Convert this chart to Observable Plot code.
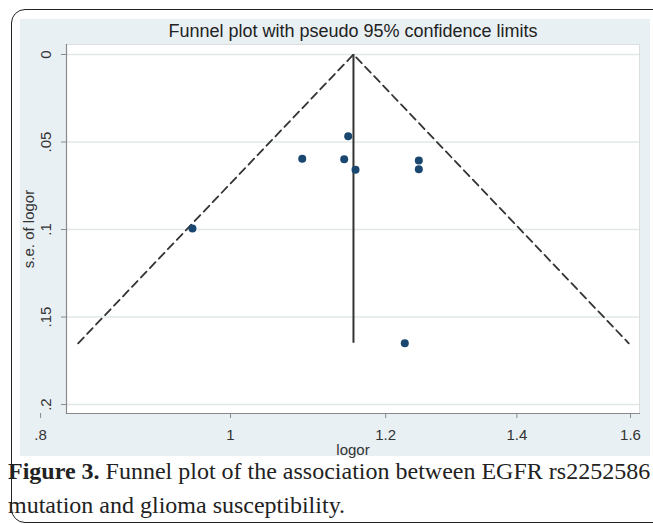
<!DOCTYPE html>
<html>
<head>
<meta charset="utf-8">
<script src="https://cdn.jsdelivr.net/npm/d3@7"></script>
<script src="https://cdn.jsdelivr.net/npm/@observablehq/plot@0.6"></script>
<style>
  html, body { margin: 0; padding: 0; background: #fff; }
  #page { position: relative; width: 653px; height: 524px; overflow: hidden; background: #fff; }
  #border { position: absolute; left: 11px; top: 9px; width: 670px; height: 514px; border: 1.5px solid #222; border-radius: 14px; box-sizing: border-box; }
  #chart { position: absolute; left: 20px; top: 19px; }
  #caption { position: absolute; left: 8px; top: 454px; font-family: "Liberation Serif", "Times New Roman", serif; font-size: 24px; line-height: 34px; color: #222; white-space: nowrap; }
</style>
</head>
<body>
<div id="page">
  <div id="border"></div>
  <div id="chart"></div>
  <div id="caption"><b>Figure 3.</b> Funnel plot of the association between EGFR rs2252586<br>mutation and glioma susceptibility.</div>
</div>
<script>
// Study estimates (log odds ratio) and standard errors
const logorValues = [0.0843, 0.1383, 0.1336, 0.1469, 0.2213, 0.2213, -0.0447, 0.2048];
const seValues    = [0.0596, 0.0467, 0.0598, 0.0659, 0.0606, 0.0655, 0.0994, 0.1650];

// Pooled estimate and pseudo 95% confidence limits (funnel vertices)
const pooledLogor = 0.1445;
const maxSE = 0.165;
const funnelX = [-0.179, 0.1445, 0.468];
const funnelY = [0.165, 0, 0.165];

// Axis ticks
const xTickOR = [0.8, 1, 1.2, 1.4, 1.6];
const xTickLabels = [".8", "1", "1.2", "1.4", "1.6"];
const yTickValues = [0, 0.05, 0.1, 0.15, 0.2];
const yTickLabels = ["0", ".05", ".1", ".15", ".2"];

const title = "Funnel plot with pseudo 95% confidence limits";
const xTitle = "logor";
const yTitle = "s.e. of logor";

const studies = logorValues.map((x, i) => ({x, y: seValues[i]}));
const funnel = funnelX.map((x, i) => ({x, y: funnelY[i]}));
const xTickPos = xTickOR.map(v => Math.log(v));

const plot = Plot.plot({
  width: 630,
  height: 437,
  marginLeft: 46,
  marginRight: 11,
  marginTop: 25,
  marginBottom: 43,
  style: {background: "#e9f0f3", fontFamily: "'Liberation Sans', Arial, sans-serif", color: "#333", overflow: "visible"},
  x: {domain: [-0.1927, 0.4806], axis: null},
  y: {domain: [-0.0057, 0.2051], reverse: true, axis: null},
  marks: [
    Plot.frame({fill: "white", stroke: "#d9dede"}),
    Plot.ruleY(yTickValues, {stroke: "#e1e7e7", strokeWidth: 1.5}),
    Plot.frame({anchor: "left", stroke: "#8a8a8a", strokeWidth: 1.2}),
    Plot.frame({anchor: "bottom", stroke: "#8a8a8a", strokeWidth: 1.2}),
    Plot.axisY(yTickValues, {anchor: "left", tickSize: 5, tickFormat: () => "", label: null, stroke: "#8a8a8a"}),
    Plot.axisX(xTickPos, {anchor: "bottom", tickSize: 5, tickFormat: () => "", label: null, stroke: "#8a8a8a"}),
    Plot.text(yTickValues, {y: d => d, text: (d, i) => yTickLabels[i], frameAnchor: "left", dx: -20, rotate: -90, textAnchor: "middle", lineAnchor: "middle", fontSize: 15, fill: "#333"}),
    Plot.text(xTickPos, {x: d => d, text: (d, i) => xTickLabels[i], frameAnchor: "bottom", dy: 22, textAnchor: "middle", lineAnchor: "middle", fontSize: 15, fill: "#333"}),
    Plot.text([xTitle], {text: d => d, frameAnchor: "bottom", dy: 37, lineAnchor: "middle", fontSize: 15, fill: "#333"}),
    Plot.text([yTitle], {text: d => d, frameAnchor: "left", dx: -37, rotate: -90, textAnchor: "middle", lineAnchor: "middle", fontSize: 15, fill: "#333"}),
    Plot.text([title], {text: d => d, frameAnchor: "top", dy: -13, lineAnchor: "middle", fontSize: 18, fill: "#222"}),
    Plot.line(funnel, {x: "x", y: "y", stroke: "#333", strokeWidth: 1.8, strokeDasharray: "8,5"}),
    Plot.ruleX([pooledLogor], {y1: 0, y2: maxSE, stroke: "#333", strokeWidth: 2}),
    Plot.dot(studies, {x: "x", y: "y", r: 4, fill: "#1a476f", stroke: null})
  ]
});
document.getElementById("chart").appendChild(plot);
</script>
</body>
</html>
